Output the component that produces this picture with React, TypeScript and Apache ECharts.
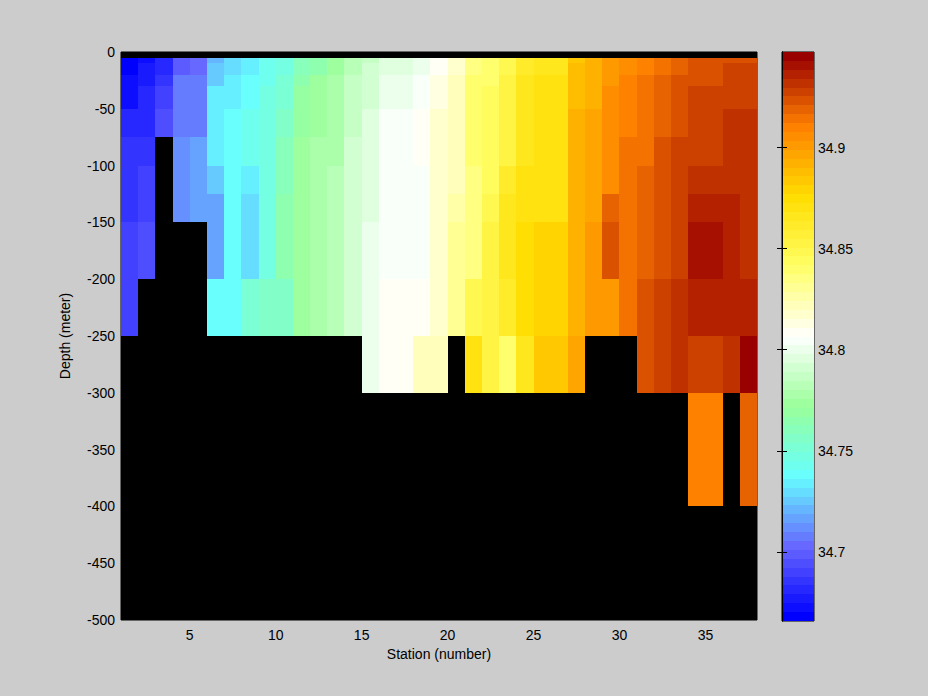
import React, { useEffect, useRef } from "react";
import * as echarts from "echarts";

const stationEdges = Array.from({ length: 38 }, (_, i) => i + 1);
const depthEdges = [5, 10, 20, 30, 50, 75, 100, 125, 150, 200, 250, 300, 400];
const stationTicks = [5, 10, 15, 20, 25, 30, 35];
const colorTicks = [34.7, 34.75, 34.8, 34.85, 34.9];
const colorMin = 34.6658;
const colorMax = 34.9473;
const colorAnchors = [
  [0, 0, 255], [102, 102, 255], [102, 255, 255], [153, 255, 153], [255, 255, 255],
  [255, 255, 102], [255, 221, 0], [255, 128, 0], [153, 0, 0],
];
const levelCount = 64;

const N = null;
// Salinity per station, one value per depth layer from 5 m down to 400 m
const salinity: (number | null)[][] = [
  [34.668, 34.668, 34.672, 34.672, 34.681, 34.686, 34.686, 34.686, 34.69, 34.69, N, N],
  [34.672, 34.677, 34.677, 34.681, 34.681, 34.686, 34.69, 34.69, 34.694, N, N, N],
  [34.681, 34.681, 34.686, 34.69, 34.694, N, N, N, N, N, N, N],
  [34.699, 34.699, 34.708, 34.708, 34.708, 34.712, 34.712, 34.712, N, N, N, N],
  [34.703, 34.703, 34.708, 34.708, 34.708, 34.716, 34.716, 34.716, N, N, N, N],
  [34.721, 34.725, 34.725, 34.734, 34.734, 34.734, 34.725, 34.716, 34.716, 34.738, N, N],
  [34.73, 34.73, 34.734, 34.734, 34.738, 34.738, 34.738, 34.738, 34.738, 34.738, N, N],
  [34.734, 34.734, 34.738, 34.738, 34.743, 34.743, 34.734, 34.73, 34.73, 34.752, N, N],
  [34.743, 34.743, 34.743, 34.747, 34.747, 34.747, 34.747, 34.747, 34.747, 34.756, N, N],
  [34.747, 34.747, 34.752, 34.752, 34.756, 34.76, 34.76, 34.765, 34.765, 34.756, N, N],
  [34.76, 34.76, 34.765, 34.769, 34.769, 34.774, 34.774, 34.774, 34.774, 34.774, N, N],
  [34.765, 34.765, 34.774, 34.774, 34.774, 34.778, 34.778, 34.778, 34.778, 34.778, N, N],
  [34.774, 34.774, 34.778, 34.778, 34.778, 34.778, 34.782, 34.782, 34.782, 34.782, N, N],
  [34.782, 34.782, 34.787, 34.787, 34.787, 34.791, 34.791, 34.791, 34.791, 34.791, N, N],
  [34.787, 34.791, 34.791, 34.791, 34.796, 34.796, 34.796, 34.796, 34.8, 34.8, 34.8, N],
  [34.796, 34.796, 34.8, 34.8, 34.804, 34.804, 34.804, 34.804, 34.804, 34.809, 34.809, N],
  [34.796, 34.796, 34.8, 34.8, 34.804, 34.804, 34.804, 34.804, 34.804, 34.809, 34.809, N],
  [34.8, 34.8, 34.804, 34.804, 34.809, 34.809, 34.804, 34.804, 34.804, 34.809, 34.822, N],
  [34.809, 34.809, 34.813, 34.813, 34.818, 34.818, 34.818, 34.818, 34.818, 34.818, 34.822, N],
  [34.818, 34.818, 34.822, 34.822, 34.822, 34.822, 34.822, 34.826, 34.831, 34.831, N, N],
  [34.835, 34.835, 34.84, 34.84, 34.84, 34.84, 34.835, 34.835, 34.835, 34.848, 34.87, N],
  [34.84, 34.84, 34.84, 34.844, 34.844, 34.844, 34.844, 34.848, 34.853, 34.853, 34.853, N],
  [34.848, 34.848, 34.853, 34.853, 34.853, 34.853, 34.862, 34.866, 34.866, 34.862, 34.84, N],
  [34.862, 34.862, 34.866, 34.866, 34.866, 34.866, 34.87, 34.87, 34.875, 34.875, 34.866, N],
  [34.866, 34.866, 34.87, 34.87, 34.87, 34.87, 34.87, 34.87, 34.879, 34.879, 34.884, N],
  [34.866, 34.866, 34.87, 34.87, 34.87, 34.87, 34.87, 34.87, 34.879, 34.879, 34.884, N],
  [34.884, 34.888, 34.888, 34.888, 34.892, 34.892, 34.892, 34.892, 34.892, 34.892, 34.897, N],
  [34.892, 34.892, 34.892, 34.892, 34.897, 34.897, 34.897, 34.897, 34.901, 34.901, N, N],
  [34.901, 34.901, 34.901, 34.906, 34.906, 34.906, 34.906, 34.919, 34.923, 34.901, N, N],
  [34.906, 34.906, 34.91, 34.91, 34.91, 34.914, 34.914, 34.914, 34.914, 34.914, N, N],
  [34.91, 34.91, 34.914, 34.914, 34.914, 34.914, 34.919, 34.919, 34.919, 34.923, 34.923, N],
  [34.914, 34.914, 34.919, 34.919, 34.919, 34.923, 34.923, 34.923, 34.923, 34.928, 34.928, N],
  [34.919, 34.919, 34.923, 34.923, 34.923, 34.928, 34.928, 34.928, 34.928, 34.932, 34.932, N],
  [34.923, 34.923, 34.923, 34.928, 34.928, 34.928, 34.932, 34.936, 34.941, 34.936, 34.928, 34.91],
  [34.923, 34.923, 34.923, 34.928, 34.928, 34.928, 34.932, 34.936, 34.941, 34.936, 34.928, 34.91],
  [34.923, 34.928, 34.928, 34.928, 34.932, 34.932, 34.932, 34.936, 34.936, 34.936, 34.932, N],
  [34.923, 34.928, 34.928, 34.928, 34.932, 34.932, 34.932, 34.932, 34.932, 34.936, 34.945, 34.919],
];

const FONT = "Liberation Sans";

function levelColor(level: number): string {
  const t = (level / (levelCount - 1)) * (colorAnchors.length - 1);
  const k = Math.min(Math.floor(t), colorAnchors.length - 2);
  const f = t - k;
  const c = colorAnchors[k].map((a, j) => Math.round(a + (colorAnchors[k + 1][j] - a) * f));
  return `rgb(${c[0]},${c[1]},${c[2]})`;
}

function valueColor(v: number): string {
  const level = Math.floor(((v - colorMin) / (colorMax - colorMin)) * levelCount);
  return levelColor(Math.max(0, Math.min(levelCount - 1, level)));
}

const renderCell = (_: any, api: any) => {
  const a = api.coord([api.value(0), api.value(2)]);
  const b = api.coord([api.value(1), api.value(3)]);
  const x0 = Math.round(Math.min(a[0], b[0]));
  const x1 = Math.round(Math.max(a[0], b[0]));
  const y0 = Math.round(Math.min(a[1], b[1]));
  const y1 = Math.round(Math.max(a[1], b[1]));
  return {
    type: "rect",
    shape: { x: x0, y: y0, width: x1 - x0, height: y1 - y0 },
    style: { fill: valueColor(api.value(4)) },
  };
};

export default function App() {
  const ref = useRef<HTMLDivElement>(null);
  useEffect(() => {
    document.body.style.margin = "0";
    document.body.style.background = "#cccccc";
    const chart = echarts.init(ref.current!, undefined, { renderer: "svg" });

    const cells: number[][] = [];
    salinity.forEach((col, s) => {
      col.forEach((v, d) => {
        if (v !== null) {
          cells.push([stationEdges[s], stationEdges[s + 1], -depthEdges[d], -depthEdges[d + 1] , v]);
        }
      });
    });

    const step = (colorMax - colorMin) / levelCount;
    const barCells = Array.from({ length: levelCount }, (_, i) => [
      0, 1, colorMin + i * step, colorMin + (i + 1) * step, colorMin + (i + 0.5) * step,
    ]);

    const text = { color: "#000", fontFamily: FONT, fontSize: 14 };

    chart.setOption({
      animation: false,
      backgroundColor: "#cccccc",
      textStyle: { fontFamily: FONT },
      grid: [
        { left: 121, top: 52, width: 636, height: 568, show: true, backgroundColor: "#000", borderColor: "#000", borderWidth: 1, containLabel: false },
        { left: 782, top: 52, width: 32, height: 569, show: true, backgroundColor: "#000", borderColor: "#000", borderWidth: 1, containLabel: false },
      ],
      xAxis: [
        {
          type: "value", gridIndex: 0, min: 1, max: 38,
          name: "Station (number)", nameLocation: "middle", nameGap: 25, nameTextStyle: text,
          axisLine: { show: false }, axisTick: { show: false, customValues: stationTicks }, splitLine: { show: false },
          axisLabel: { ...text, margin: 8, customValues: stationTicks },
        },
        {
          type: "value", gridIndex: 1, min: 0, max: 1,
          axisLine: { show: false }, axisTick: { show: false }, axisLabel: { show: false }, splitLine: { show: false },
        },
      ],
      yAxis: [
        {
          type: "value", gridIndex: 0, min: -500, max: 0, interval: 50,
          name: "Depth (meter)", nameLocation: "middle", nameGap: 49, nameRotate: 90, nameTextStyle: text,
          axisLine: { show: false }, axisTick: { show: false }, splitLine: { show: false },
          axisLabel: { ...text, margin: 6 },
        },
        {
          type: "value", gridIndex: 1, position: "right", min: colorMin, max: colorMax, z: 10,
          axisLine: { show: true, lineStyle: { color: "#000" } },
          axisTick: { show: true, inside: true, length: 5, lineStyle: { color: "#000" }, customValues: colorTicks },
          axisLabel: { ...text, margin: 4, customValues: colorTicks, formatter: (v: number) => String(+v.toFixed(2)) },
          splitLine: { show: false },
        },
        {
          type: "value", gridIndex: 1, position: "left", min: colorMin, max: colorMax, z: 10,
          axisLine: { show: true, lineStyle: { color: "#000" } },
          axisTick: { show: true, inside: true, length: 5, lineStyle: { color: "#000" }, customValues: colorTicks },
          axisLabel: { show: false },
          splitLine: { show: false },
        },
      ],
      series: [
        {
          type: "custom", xAxisIndex: 0, yAxisIndex: 0, data: cells,
          encode: { x: [0, 1], y: [2, 3] }, renderItem: renderCell, silent: true,
        },
        {
          type: "custom", xAxisIndex: 1, yAxisIndex: 1, data: barCells,
          encode: { x: [0, 1], y: [2, 3] }, renderItem: renderCell, silent: true,
        },
      ],
    });
    return () => chart.dispose();
  }, []);
  return <div ref={ref} style={{ width: 928, height: 696 }} />;
}
